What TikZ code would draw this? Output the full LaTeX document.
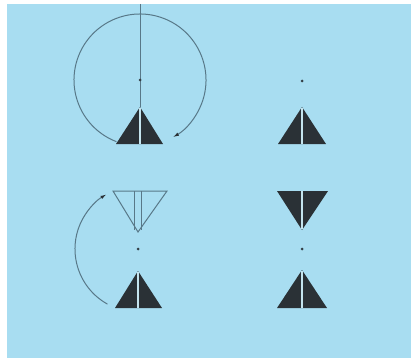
\documentclass[tikz,border=0pt]{standalone}
\usetikzlibrary{arrows.meta}
\definecolor{bgblue}{HTML}{A8DDF1}
\definecolor{darktri}{HTML}{2A3136}
\definecolor{lineblue}{HTML}{587888}
\definecolor{splitc}{HTML}{C4E4EE}
\tikzset{
  darkfill/.style={fill=darktri, draw=none},
  splitline/.style={draw=splitc, line width=1.2pt},
  thinline/.style={draw=lineblue, line width=1pt},
  pivot/.style={circle, fill=darktri!80!lineblue, inner sep=0pt, minimum size=3pt},
  arrowline/.style={thinline, -{Latex[length=6pt,width=3.5pt,color=darktri]}}
}
\begin{document}
\begin{tikzpicture}[x=1pt,y=-1pt]
\useasboundingbox (0,0) rectangle (411,358);
\fill[white] (0,0) rectangle (411,358);
\fill[bgblue] (7,4) rectangle (411,358);

% ---------- top left ----------
\coordinate (c1) at (140,80);
\draw[thinline, line width=0.7pt] (140,4) -- (140,107);
\node[pivot] (p1) at (c1) {};
\fill[darkfill] (140,107) -- (163,144) -- (116,144) -- cycle;
\draw[splitline] (140,108) -- (140,144);
\draw[arrowline] (c1) ++(111:66) arc[start angle=111, end angle=420, radius=66];

% ---------- top right ----------
\node[pivot] (p2) at (302,81) {};
\fill[darkfill] (302,107) -- (326,144) -- (278,144) -- cycle;
\draw[splitline] (302,108) -- (302,144);

% ---------- bottom left ----------
\coordinate (c3) at (138,249);
\draw[thinline] (113,191) -- (167,191) -- (138,232) -- cycle;
\draw[thinline, line width=0.8pt] (134,191) -- (134,230);
\draw[thinline, line width=0.8pt] (141,191) -- (141,230);
\node[pivot] (p3) at (c3) {};
\fill[darkfill] (138,271) -- (162,308) -- (115,308) -- cycle;
\draw[splitline] (138,272) -- (138,308);
\draw[arrowline] (c3) ++(119:63) arc[start angle=119, end angle=240, radius=63];

% ---------- bottom right ----------
\fill[darkfill] (277,191) -- (328,191) -- (302,230) -- cycle;
\draw[splitline] (302,191) -- (302,229);
\node[pivot] (p4) at (302,249) {};
\fill[darkfill] (302,270) -- (327,308) -- (277,308) -- cycle;
\draw[splitline] (302,271) -- (302,308);
\end{tikzpicture}
\end{document}
